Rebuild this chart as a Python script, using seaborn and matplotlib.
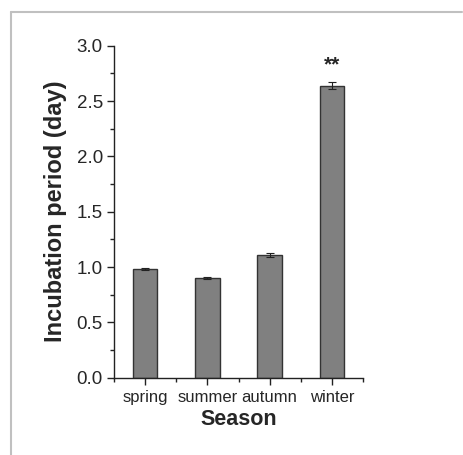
import matplotlib
matplotlib.use("Agg")
import matplotlib.pyplot as plt
import seaborn as sns
import pandas as pd
from matplotlib.ticker import MultipleLocator, FixedLocator
from matplotlib.lines import Line2D

seasons = ["spring", "summer", "autumn", "winter"]
values = [0.98, 0.90, 1.11, 2.64]
errors = [0.01, 0.01, 0.02, 0.03]
y_ticks = [0.0, 0.5, 1.0, 1.5, 2.0, 2.5, 3.0]
signif = ["", "", "", "**"]

sns.set_style("ticks")
plt.rcParams["font.family"] = ["Liberation Sans", "DejaVu Sans"]

df = pd.DataFrame({"season": seasons, "value": values})

fig = plt.figure(figsize=(4.63, 4.55), dpi=100)
ax = fig.add_axes([114 / 463, 1 - 377.7 / 455, (363 - 114) / 463, (377.7 - 45.7) / 455])

sns.barplot(data=df, x="season", y="value", ax=ax, color="#808080",
            width=0.39, edgecolor="#333333", linewidth=1.0, saturation=1, errorbar=None)
ax.errorbar(range(len(seasons)), values, yerr=errors, fmt="none", ecolor="#222222",
            elinewidth=0.8, capsize=3, capthick=0.8)
for i, s in enumerate(signif):
    if s:
        ax.text(i, values[i] + 0.19, s, ha="center", va="center", fontsize=15, fontweight="bold")

ax.set_xlim(-0.5, 3.5)
ax.set_ylim(0, 3.0)
ax.set_yticks(y_ticks)
ax.set_yticklabels([f"{t:.1f}" for t in y_ticks])
ax.yaxis.set_minor_locator(MultipleLocator(0.25))
ax.xaxis.set_minor_locator(FixedLocator([-0.5, 0.5, 1.5, 2.5, 3.5]))
ax.tick_params(axis="both", which="major", direction="out", length=5, width=1, color="#222222")
ax.tick_params(axis="both", which="minor", direction="out", length=3, width=1, color="#222222")
ax.tick_params(axis="y", labelsize=13.5, pad=3)
ax.tick_params(axis="x", labelsize=12, pad=4)
for sp in ["top", "right"]:
    ax.spines[sp].set_visible(False)
for sp in ["left", "bottom"]:
    ax.spines[sp].set_linewidth(1.0)
    ax.spines[sp].set_color("#222222")

ax.set_xlabel("Season", fontsize=15.5, fontweight="bold", labelpad=3)
ax.set_ylabel("Incubation period (day)", fontsize=17, fontweight="bold", labelpad=7)

# light frame around the figure area (top and left)
fig.add_artist(Line2D([11 / 463, 11 / 463], [0, 1 - 12 / 455], transform=fig.transFigure,
                      color="#c0c0c0", linewidth=1.5))
fig.add_artist(Line2D([11 / 463, 462 / 463], [1 - 12 / 455, 1 - 12 / 455], transform=fig.transFigure,
                      color="#c0c0c0", linewidth=1.5))

fig.savefig("out.png", dpi=100, facecolor="white")
